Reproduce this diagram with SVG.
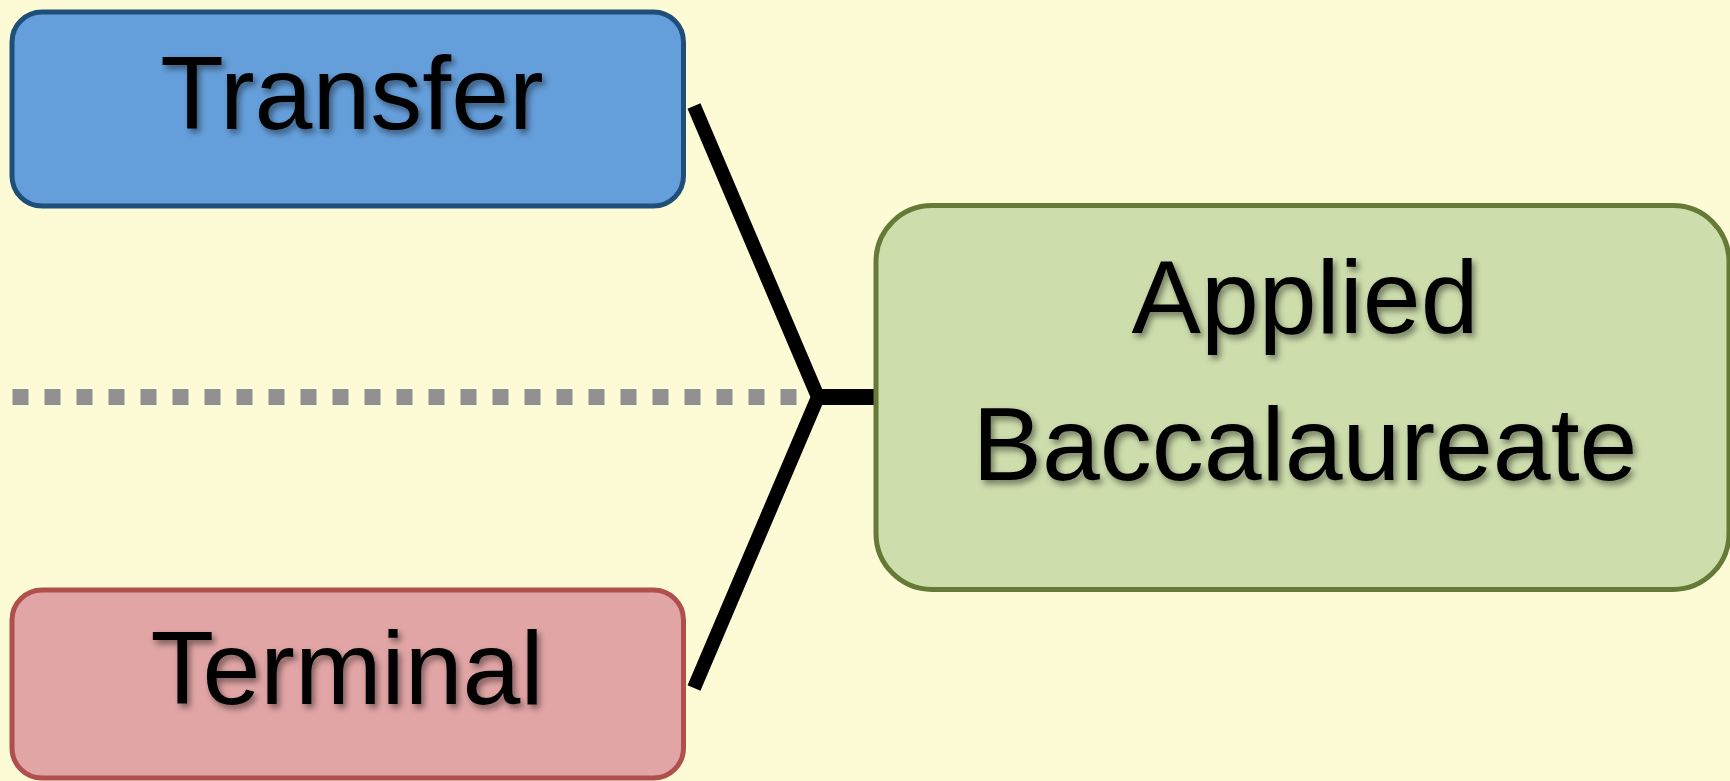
<svg xmlns="http://www.w3.org/2000/svg" width="1730" height="781" viewBox="0 0 1730 781">
<style>
.lbl{font-family:"Liberation Sans",Arial,sans-serif;font-size:104px;fill:#000;text-anchor:middle;filter:url(#ts)}
.conn{stroke:#000;fill:none}
</style>
<defs>
<filter id="ts" x="-10%" y="-20%" width="130%" height="150%">
<feDropShadow dx="3" dy="4" stdDeviation="3" flood-color="#000" flood-opacity="0.45"/>
</filter>
</defs>
<rect width="1730" height="781" fill="#FDFAD6"/>
<g id="connectors">
<line x1="12.5" y1="397" x2="796.5" y2="397" stroke="#919191" stroke-width="16" stroke-dasharray="16 16"/>
<polyline class="conn" stroke-width="14" points="694,106 818,397 694,688"/>
<line class="conn" stroke-width="16" x1="815" y1="397" x2="876" y2="397"/>
</g>
<g id="transfer">
<rect x="12" y="12" width="671.5" height="194" rx="30" fill="#659FDB" stroke="#1F4E79" stroke-width="5"/>
<text class="lbl" x="352" y="129">Transfer</text>
</g>
<g id="applied">
<rect x="876" y="205.5" width="853" height="384" rx="56" fill="#CDDDAC" stroke="#647A36" stroke-width="5"/>
<text class="lbl" x="1305" y="333">Applied</text>
<text class="lbl" x="1305" y="480">Baccalaureate</text>
</g>
<g id="terminal">
<rect x="12" y="590" width="671.5" height="188" rx="30" fill="#E2A5A5" stroke="#B0504C" stroke-width="5"/>
<text class="lbl" x="347" y="704">Terminal</text>
</g>
</svg>
